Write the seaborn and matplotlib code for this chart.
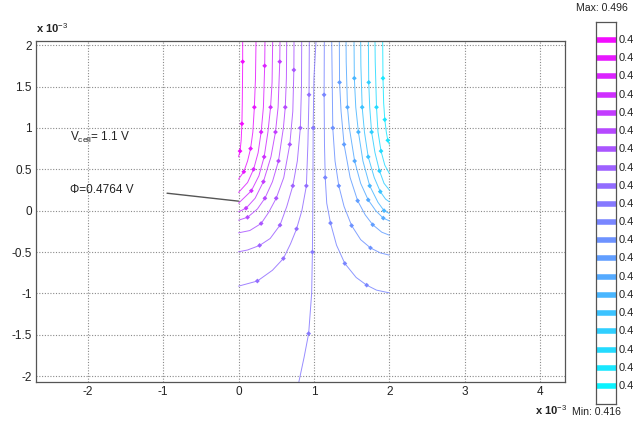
import numpy as np
import pandas as pd
import matplotlib
matplotlib.use("Agg")
import matplotlib.pyplot as plt
import seaborn as sns

# ---------------- data (units of 1e-3) ----------------
v_min, v_max = 0.416, 0.496
cbar_levels = [0.4198, 0.4236, 0.4274, 0.4312, 0.4350, 0.4389, 0.4427, 0.4465,
               0.4503, 0.4541, 0.4579, 0.4617, 0.4655, 0.4693, 0.4731, 0.4770,
               0.4808, 0.4846, 0.4884, 0.4922]
cbar_labels = ["0.4"] * 20   # labels as visible (truncated at the figure edge)

L1_x = [0.055, 0.055, 0.050, 0.045, 0.035, 0.020, 0.0]
L1_y = [2.05, 1.80, 1.30, 1.05, 0.85, 0.72, 0.65]
L2_x = [0.232, 0.225, 0.210, 0.190, 0.160, 0.120, 0.070, 0.0]
L2_y = [2.05, 1.60, 1.25, 0.95, 0.75, 0.60, 0.47, 0.38]
L3_x = [0.351, 0.347, 0.330, 0.300, 0.260, 0.200, 0.120, 0.0]
L3_y = [2.05, 1.75, 1.25, 0.95, 0.70, 0.50, 0.34, 0.22]
L4_x = [0.453, 0.445, 0.425, 0.390, 0.340, 0.270, 0.170, 0.0]
L4_y = [2.05, 1.55, 1.25, 0.95, 0.65, 0.42, 0.24, 0.09]
L5_x = [0.550, 0.547, 0.525, 0.490, 0.430, 0.330, 0.220, 0.100, 0.0]
L5_y = [2.05, 1.80, 1.25, 0.95, 0.65, 0.35, 0.15, 0.03, -0.014]
L6_x = [0.639, 0.635, 0.620, 0.595, 0.530, 0.450, 0.350, 0.250, 0.120, 0.0]
L6_y = [2.05, 1.60, 1.25, 1.00, 0.60, 0.35, 0.15, 0.02, -0.08, -0.115]
L7_x = [0.736, 0.734, 0.720, 0.680, 0.600, 0.500, 0.400, 0.300, 0.150, 0.0]
L7_y = [2.05, 1.70, 1.20, 0.80, 0.40, 0.15, -0.02, -0.155, -0.24, -0.268]
L8_x = [0.838, 0.835, 0.820, 0.780, 0.720, 0.640, 0.550, 0.420, 0.280, 0.120, 0.0]
L8_y = [2.05, 1.50, 1.00, 0.60, 0.30, 0.05, -0.175, -0.336, -0.42, -0.475, -0.497]
L9_x = [0.939, 0.935, 0.920, 0.900, 0.840, 0.770, 0.690, 0.595, 0.450, 0.250, 0.0]
L9_y = [2.05, 1.40, 0.80, 0.30, 0.00, -0.22, -0.40, -0.578, -0.72, -0.85, -0.912]
C_x = [1.028, 1.000, 0.990, 0.985, 0.980, 0.970, 0.930, 0.870, 0.800]
C_y = [2.05, 1.60, 1.00, 0.00, -0.50, -1.00, -1.485, -1.77, -2.07]
R9_x = [1.138, 1.135, 1.140, 1.150, 1.170, 1.220, 1.300, 1.410, 1.560, 1.700, 1.830, 2.0]
R9_y = [2.05, 1.40, 0.80, 0.40, 0.09, -0.15, -0.417, -0.638, -0.807, -0.90, -0.96, -0.993]
R8_x = [1.236, 1.240, 1.250, 1.280, 1.330, 1.400, 1.500, 1.620, 1.750, 1.880, 2.0]
R8_y = [2.05, 1.75, 1.00, 0.60, 0.30, 0.05, -0.18, -0.35, -0.45, -0.51, -0.537]
R7_x = [1.337, 1.340, 1.360, 1.400, 1.480, 1.580, 1.680, 1.780, 1.900, 2.0]
R7_y = [2.05, 1.55, 1.20, 0.80, 0.40, 0.12, -0.05, -0.17, -0.26, -0.296]
R6_x = [1.426, 1.428, 1.445, 1.470, 1.540, 1.620, 1.720, 1.820, 1.920, 2.0]
R6_y = [2.05, 1.80, 1.25, 1.00, 0.60, 0.33, 0.13, 0.00, -0.09, -0.123]
R5_x = [1.532, 1.536, 1.555, 1.590, 1.650, 1.740, 1.850, 1.930, 2.0]
R5_y = [2.05, 1.60, 1.25, 0.95, 0.60, 0.30, 0.10, 0.00, -0.034]
R4_x = [1.620, 1.623, 1.640, 1.670, 1.720, 1.800, 1.880, 1.950, 2.0]
R4_y = [2.05, 1.75, 1.25, 0.95, 0.65, 0.40, 0.23, 0.14, 0.107]
R3_x = [1.722, 1.727, 1.740, 1.765, 1.810, 1.870, 1.930, 2.0]
R3_y = [2.05, 1.55, 1.25, 0.95, 0.70, 0.48, 0.33, 0.25]
R2_x = [1.810, 1.813, 1.830, 1.850, 1.890, 1.940, 2.0]
R2_y = [2.05, 1.80, 1.25, 0.95, 0.72, 0.55, 0.45]
R1_x = [1.912, 1.916, 1.925, 1.940, 1.960, 1.980, 2.0]
R1_y = [2.05, 1.60, 1.30, 1.10, 0.95, 0.85, 0.80]

line_names = ["L1", "L2", "L3", "L4", "L5", "L6", "L7", "L8", "L9", "C",
              "R9", "R8", "R7", "R6", "R5", "R4", "R3", "R2", "R1"]
line_levels = [0.4922, 0.4884, 0.4846, 0.4808, 0.4770, 0.4731, 0.4693, 0.4655,
               0.4617, 0.4579, 0.4541, 0.4503, 0.4465, 0.4427, 0.4389, 0.4350,
               0.4312, 0.4274, 0.4236]
line_xs = [L1_x, L2_x, L3_x, L4_x, L5_x, L6_x, L7_x, L8_x, L9_x, C_x,
           R9_x, R8_x, R7_x, R6_x, R5_x, R4_x, R3_x, R2_x, R1_x]
line_ys = [L1_y, L2_y, L3_y, L4_y, L5_y, L6_y, L7_y, L8_y, L9_y, C_y,
           R9_y, R8_y, R7_y, R6_y, R5_y, R4_y, R3_y, R2_y, R1_y]

x_ticks = [-2, -1, 0, 1, 2, 3, 4]
y_ticks = [-2, -1.5, -1, -0.5, 0, 0.5, 1, 1.5, 2]
y_tick_labels = ["-2", "-1.5", "-1", "-0.5", "0", "0.5", "1", "1.5", "2"]

# ---------------- build frame ----------------
rows = []
for k, (name, xs, ys, lev) in enumerate(zip(line_names, line_xs, line_ys, line_levels)):
    n = len(xs)
    for i, (x, y) in enumerate(zip(xs, ys)):
        rows.append(dict(line=name, x=x, y=y, level=lev,
                         marker=(0 < i < n - 1) and ((i + k) % 2 == 1)))
df = pd.DataFrame(rows)

# ---------------- style ----------------
sns.set_theme(style="white")
plt.rcParams['font.family'] = ['Liberation Sans', 'DejaVu Sans']
plt.rcParams['mathtext.fontset'] = 'custom'
plt.rcParams['mathtext.rm'] = 'Liberation Sans'
plt.rcParams['mathtext.it'] = 'Liberation Sans:italic'
plt.rcParams['mathtext.bf'] = 'Liberation Sans:bold'
plt.rcParams['axes.unicode_minus'] = False

fig = plt.figure(figsize=(6.33, 4.22), dpi=100)
ax = fig.add_axes([36 / 633, 40 / 422, 529 / 633, 341 / 422])

sns.lineplot(data=df, x="x", y="y", hue="level", units="line", estimator=None,
             sort=False, palette="cool", hue_norm=(v_min, v_max), legend=False,
             lw=0.7, alpha=0.85, ax=ax)
sns.scatterplot(data=df[df["marker"]], x="x", y="y", hue="level", palette="cool",
                hue_norm=(v_min, v_max), s=6, marker="D", linewidth=0,
                legend=False, ax=ax, zorder=3)

ax.set_xlim(-2.686, 4.33)
ax.set_ylim(-2.07, 2.05)
ax.set_xticks(x_ticks)
ax.set_xticklabels([str(t) for t in x_ticks])
ax.set_yticks(y_ticks)
ax.set_yticklabels(y_tick_labels)
ax.set_xlabel("")
ax.set_ylabel("")
ax.grid(True, linestyle=(0, (1, 1.5)), color="#8a8a8a", lw=0.8)
ax.set_axisbelow(True)
for s in ax.spines.values():
    s.set_color("#555555")
    s.set_linewidth(0.9)
ax.tick_params(axis="both", labelsize=8.5, colors="#222222", direction="in",
               length=3, pad=3)

# annotations
ax.text(-2.235, 0.89, r"V$_{\mathrm{cell}}$= 1.1 V", fontsize=8.5, va="center",
        ha="left", color="#222222")
ax.text(-2.235, 0.245, "\u03a6=0.4764 V", fontsize=8.5, va="center", ha="left",
        color="#222222")
ax.plot([-0.948, 0.0], [0.211, 0.115], color="#555555", lw=1.0)

fig.text(36 / 633, 1 - 33 / 422, r"x 10$^{-3}$", fontsize=8, fontweight="bold",
         ha="left", va="baseline", color="#222222")
fig.text(535 / 633, 1 - 415 / 422, r"x 10$^{-3}$", fontsize=8, fontweight="bold",
         ha="left", va="baseline", color="#222222")
fig.text(576 / 633, 1 - 11 / 422, "Max: 0.496", fontsize=7.6, ha="left",
         va="baseline", color="#222222")
fig.text(572 / 633, 1 - 415 / 422, "Min: 0.416", fontsize=7.6, ha="left",
         va="baseline", color="#222222")

# colour legend bar
cax = fig.add_axes([596 / 633, 18 / 422, 20 / 633, 382 / 422])
cmap = plt.get_cmap("cool")
norm = plt.Normalize(v_min, v_max)
cax.hlines(cbar_levels, 0, 1, colors=[cmap(norm(v)) for v in cbar_levels], lw=4)
cax.set_xlim(0, 1)
cax.set_ylim(v_min, v_max)
cax.set_xticks([])
cax.set_yticks([])
for s in cax.spines.values():
    s.set_color("#555555")
    s.set_linewidth(0.9)
for v, lab in zip(cbar_levels, cbar_labels):
    cax.text(1.12, v, lab, fontsize=8, va="center", ha="left",
             color="#222222", clip_on=False)

fig.savefig("out.png", dpi=100)
